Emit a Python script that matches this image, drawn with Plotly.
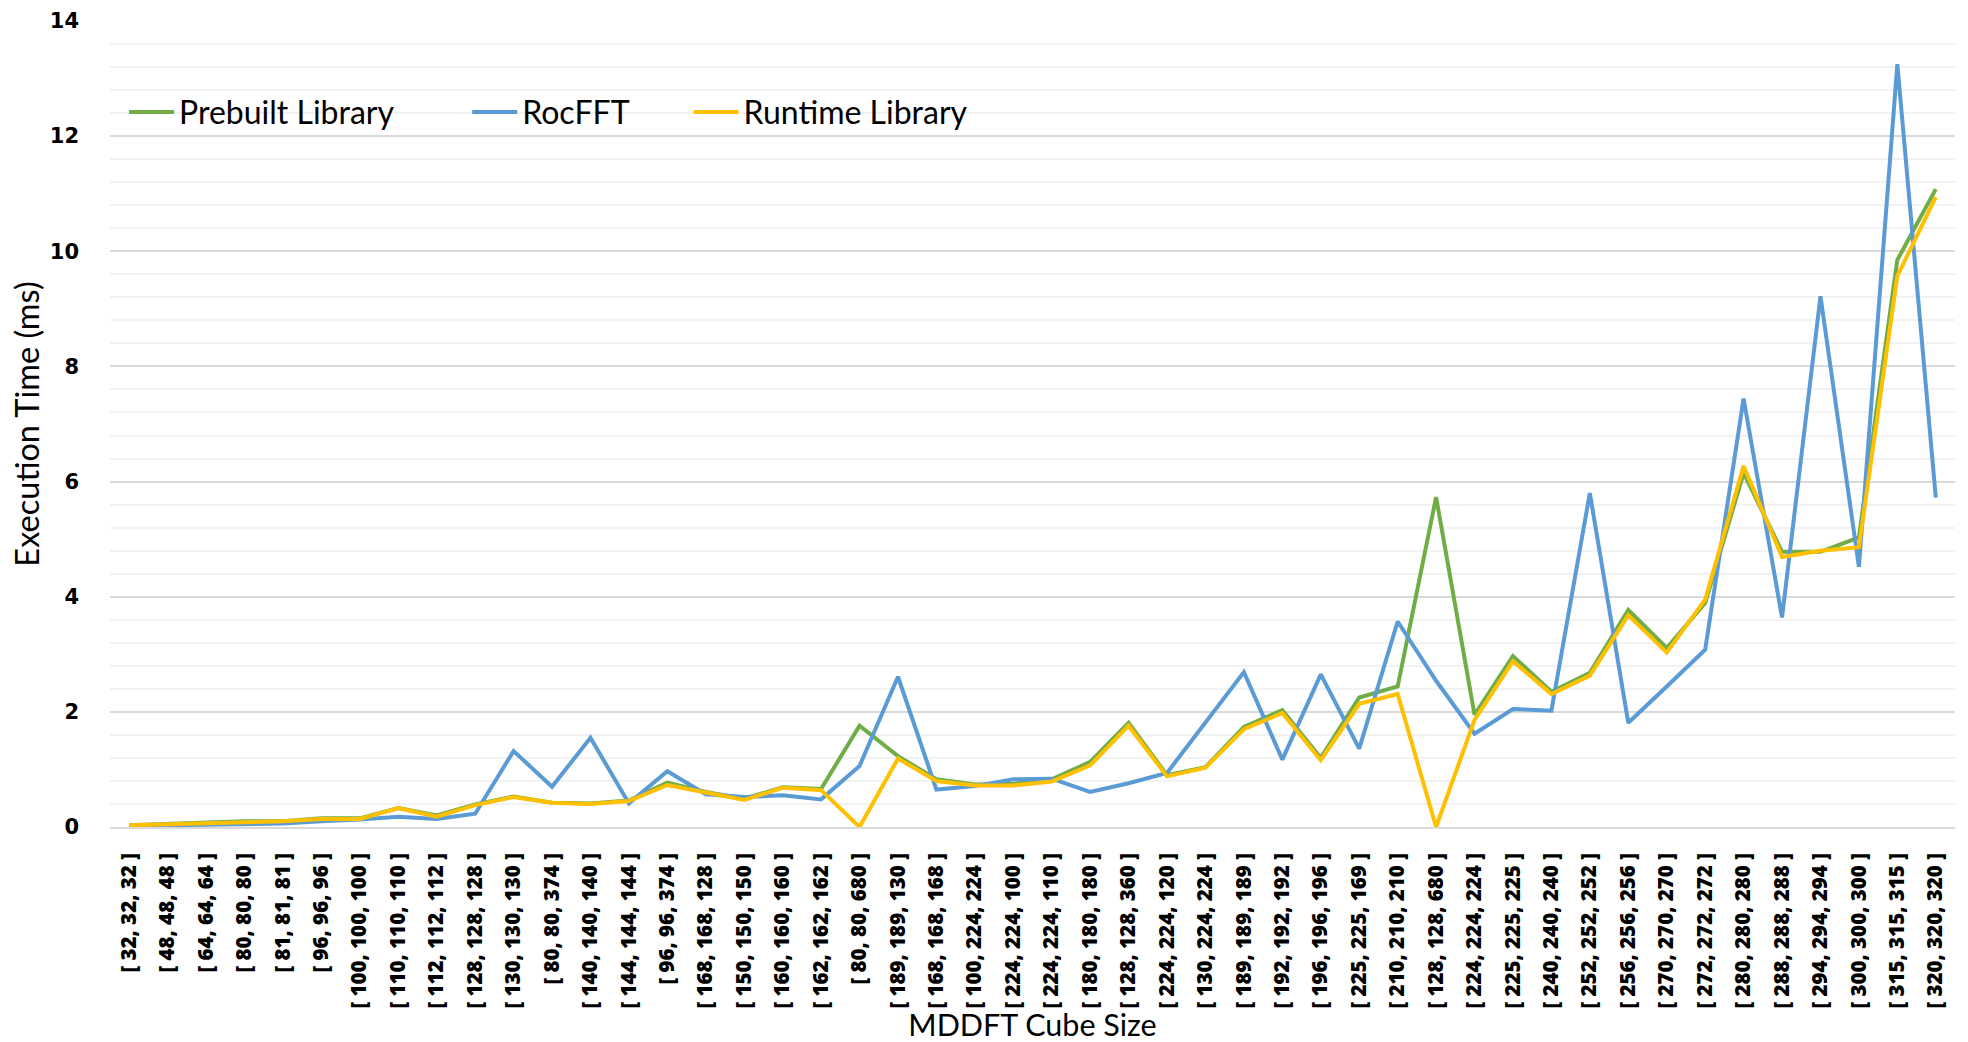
import plotly.graph_objects as go

categories = [
    "[ 32, 32, 32 ]", "[ 48, 48, 48 ]", "[ 64, 64, 64 ]", "[ 80, 80, 80 ]",
    "[ 81, 81, 81 ]", "[ 96, 96, 96 ]", "[ 100, 100, 100 ]", "[ 110, 110, 110 ]",
    "[ 112, 112, 112 ]", "[ 128, 128, 128 ]", "[ 130, 130, 130 ]", "[ 80, 80, 374 ]",
    "[ 140, 140, 140 ]", "[ 144, 144, 144 ]", "[ 96, 96, 374 ]", "[ 168, 168, 128 ]",
    "[ 150, 150, 150 ]", "[ 160, 160, 160 ]", "[ 162, 162, 162 ]", "[ 80, 80, 680 ]",
    "[ 189, 189, 130 ]", "[ 168, 168, 168 ]", "[ 100, 224, 224 ]", "[ 224, 224, 100 ]",
    "[ 224, 224, 110 ]", "[ 180, 180, 180 ]", "[ 128, 128, 360 ]", "[ 224, 224, 120 ]",
    "[ 130, 224, 224 ]", "[ 189, 189, 189 ]", "[ 192, 192, 192 ]", "[ 196, 196, 196 ]",
    "[ 225, 225, 169 ]", "[ 210, 210, 210 ]", "[ 128, 128, 680 ]", "[ 224, 224, 224 ]",
    "[ 225, 225, 225 ]", "[ 240, 240, 240 ]", "[ 252, 252, 252 ]", "[ 256, 256, 256 ]",
    "[ 270, 270, 270 ]", "[ 272, 272, 272 ]", "[ 280, 280, 280 ]", "[ 288, 288, 288 ]",
    "[ 294, 294, 294 ]", "[ 300, 300, 300 ]", "[ 315, 315, 315 ]", "[ 320, 320, 320 ]",
]

prebuilt = [0.03, 0.05, 0.07, 0.10, 0.10, 0.15, 0.15, 0.33, 0.20, 0.39, 0.53, 0.42,
            0.41, 0.46, 0.77, 0.61, 0.49, 0.69, 0.66, 1.76, 1.23, 0.83, 0.74, 0.75,
            0.83, 1.13, 1.81, 0.90, 1.04, 1.74, 2.03, 1.20, 2.25, 2.44, 5.73, 1.95,
            2.97, 2.35, 2.68, 3.77, 3.11, 3.89, 6.15, 4.78, 4.78, 5.03, 9.85, 11.08]

rocfft = [0.02, 0.03, 0.03, 0.04, 0.06, 0.10, 0.13, 0.18, 0.14, 0.23, 1.32, 0.70,
          1.55, 0.41, 0.97, 0.57, 0.52, 0.55, 0.48, 1.06, 2.61, 0.65, 0.71, 0.83,
          0.84, 0.61, 0.76, 0.94, 1.81, 2.69, 1.17, 2.65, 1.36, 3.57, 2.54, 1.62,
          2.05, 2.02, 5.80, 1.81, 2.44, 3.08, 7.44, 3.64, 9.22, 4.52, 13.25, 5.72]

runtime = [0.03, 0.05, 0.06, 0.09, 0.10, 0.14, 0.14, 0.33, 0.18, 0.38, 0.52, 0.42,
           0.40, 0.45, 0.73, 0.60, 0.47, 0.68, 0.64, 0.00, 1.19, 0.80, 0.72, 0.72,
           0.79, 1.07, 1.76, 0.88, 1.03, 1.70, 1.98, 1.16, 2.14, 2.31, 0.00, 1.86,
           2.88, 2.31, 2.63, 3.68, 3.03, 3.95, 6.27, 4.69, 4.80, 4.86, 9.57, 10.94]

series_names = ["Prebuilt Library", "RocFFT", "Runtime Library"]
series_colors = ["#70AD47", "#5B9BD5", "#FFC000"]
series_values = [prebuilt, rocfft, runtime]
legend_ids = ["legend", "legend2", "legend3"]

TITLE_FONT = "Lato, Open Sans, sans-serif"

fig = go.Figure()
for name, color, vals, lg in zip(series_names, series_colors, series_values, legend_ids):
    fig.add_trace(go.Scatter(
        x=categories, y=vals, name=name, mode="lines",
        line=dict(color=color, width=4),
        legend=lg,
    ))

legend_common = dict(
    orientation="h", yanchor="middle", y=0.887, xanchor="left",
    bgcolor="rgba(0,0,0,0)", borderwidth=0,
    font=dict(family=TITLE_FONT, size=32, color="#000000"),
    itemwidth=45,
)

fig.update_layout(
    width=1968, height=1042,
    margin=dict(l=110, r=13, t=21, b=215),
    paper_bgcolor="white", plot_bgcolor="white",
    showlegend=True,
    legend=dict(x=0.0076, **legend_common),
    legend2=dict(x=0.1936, **legend_common),
    legend3=dict(x=0.3136, **legend_common),
    xaxis=dict(
        type="category", range=[-0.5, 47.5],
        tickangle=-90,
        tickfont=dict(family="Open Sans", size=20.5, color="#000000", weight=800),
        showgrid=False, showline=True, linecolor="#d9d9d9", linewidth=2,
        ticks="", ticklabelstandoff=16,
        title=dict(text="MDDFT Cube Size",
                   font=dict(family=TITLE_FONT, size=30.5, color="#000000"),
                   standoff=13),
        automargin=False,
    ),
    yaxis=dict(
        range=[0, 14], dtick=2, tick0=0,
        tickfont=dict(family="DejaVu Sans", size=21, color="#000000", weight="bold"),
        showgrid=True, gridcolor="#d9d9d9", gridwidth=1.5,
        minor=dict(dtick=0.4, showgrid=True, gridcolor="#f2f2f2", gridwidth=1.5),
        zeroline=False, showline=False, ticks="",
        ticklabelstandoff=30,
        title=dict(text="Execution Time (ms)",
                   font=dict(family=TITLE_FONT, size=32.5, color="#000000"),
                   standoff=0),
        automargin=False,
    ),
)

fig.write_html("out.html")
